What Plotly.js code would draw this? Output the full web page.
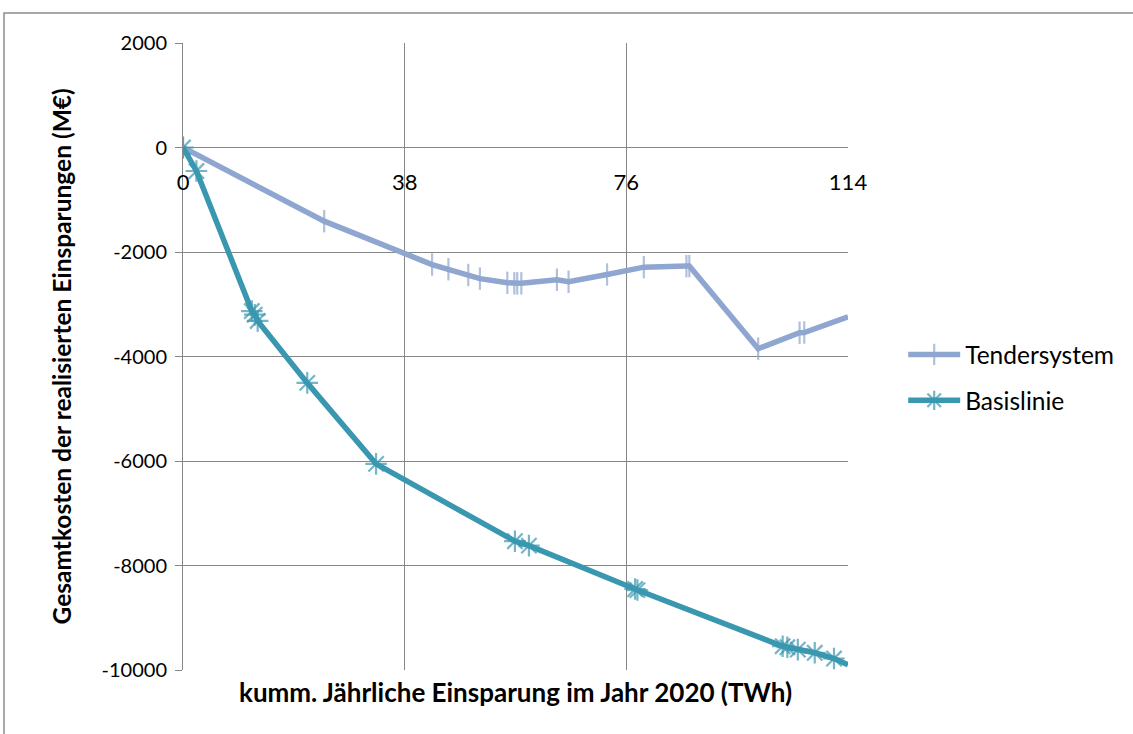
<!DOCTYPE html>
<html>
<head>
<meta charset="utf-8">
<script src="https://cdn.plot.ly/plotly-3.0.1.min.js"></script>
<style>html,body{margin:0;padding:0;background:#fff}#chart{width:1133px;height:734px}</style>
</head>
<body>
<div id="chart"></div>
<script>
const tenderX = [0, 24.2, 42.7, 45.5, 48.9, 50.9, 55.6, 56.8, 57.3, 58.0, 64.1, 66.1, 72.7, 79.0, 86.3, 86.8, 98.6, 105.7, 106.5, 114];
const tenderY = [0, -1410, -2240, -2330, -2440, -2510, -2590, -2600, -2600, -2600, -2530, -2570, -2430, -2290, -2270, -2270, -3850, -3545, -3540, -3240];
const basisX = [0, 2.3, 11.8, 12.3, 12.8, 21.3, 33.1, 56.9, 59.3, 77.5, 77.9, 102.8, 103.6, 105.4, 108.3, 111.6, 114];
const basisY = [0, -450, -3130, -3200, -3320, -4505, -6055, -7535, -7620, -8450, -8470, -9545, -9565, -9610, -9670, -9780, -9900];
const xTicks = [0, 38, 76, 114];
const yTicks = [-10000, -8000, -6000, -4000, -2000, 0, 2000];
const seriesNames = ["Tendersystem", "Basislinie"];
const xTitle = "kumm. Jährliche Einsparung im Jahr 2020 (TWh)";
const yTitle = "Gesamtkosten der realisierten Einsparungen (M€)";

const FONT = "Lato, 'Open Sans', sans-serif";
const grid = "#878787";
const cT = "#8FA6D0", cB = "#3A97B0";
const sizes = (arr, s) => arr.map((v, i) => i === arr.length - 1 ? 0 : s);

const traces = [
  {x: tenderX, y: tenderY, name: seriesNames[0], mode: "lines+markers", legendgroup: "a",
   line: {color: cT, width: 5.5},
   marker: {symbol: "line-ns", size: sizes(tenderX, 16), line: {color: cT, width: 2.2}, color: cT}},
  {x: basisX, y: basisY, name: seriesNames[1], mode: "lines+markers", legendgroup: "b",
   line: {color: cB, width: 5.5},
   marker: {symbol: "asterisk", size: sizes(basisX, 18), line: {color: cB, width: 2.2}, color: cB}}
];

const layout = {
  width: 1133, height: 734,
  margin: {l: 183, r: 285, t: 43, b: 64},
  paper_bgcolor: "#fff", plot_bgcolor: "#fff",
  font: {family: FONT, size: 20, color: "#000"},
  showlegend: true,
  legend: {x: 1.083, y: 0.4665, xanchor: "left", yanchor: "middle", traceorder: "grouped",
           tracegroupgap: 11, font: {family: FONT, size: 24.5, color: "#000"}, itemwidth: 52},
  xaxis: {range: [0, 114], tickvals: xTicks, ticktext: xTicks.map(String), showgrid: true,
          gridcolor: grid, gridwidth: 1, zeroline: false, showline: false, ticks: "",
          anchor: "free", position: (0 - (-10000)) / 12000, side: "bottom",
          ticklabelstandoff: 19, tickfont: {family: FONT, size: 22}},
  yaxis: {range: [-10000, 2000], tickvals: yTicks, ticktext: yTicks.map(String), showgrid: true,
          gridcolor: grid, gridwidth: 1, zeroline: false, showline: true, linecolor: grid, linewidth: 1,
          ticks: "outside", ticklen: 7, tickcolor: grid, tickfont: {family: FONT, size: 20},
          ticklabelstandoff: 4},
  annotations: [
    {text: "<b>" + xTitle + "</b>", xref: "paper", yref: "paper", x: 0.5, y: -0.035,
     xanchor: "center", yanchor: "middle", showarrow: false, font: {family: FONT, size: 26}},
    {text: "<b>" + yTitle + "</b>", xref: "paper", yref: "paper", x: -0.182, y: 0.5,
     xanchor: "center", yanchor: "middle", textangle: -90, showarrow: false, font: {family: FONT, size: 24.5}}
  ],
  shapes: [
    {type: "rect", xref: "paper", yref: "paper", x0: -0.2692, x1: 1.5, y0: -0.2, y1: 1.0478,
     line: {color: "#8c8c8c", width: 1.5}, fillcolor: "rgba(0,0,0,0)", layer: "below"}
  ]
};

Plotly.newPlot("chart", traces, layout, {displayModeBar: false, staticPlot: true});
</script>
</body>
</html>
